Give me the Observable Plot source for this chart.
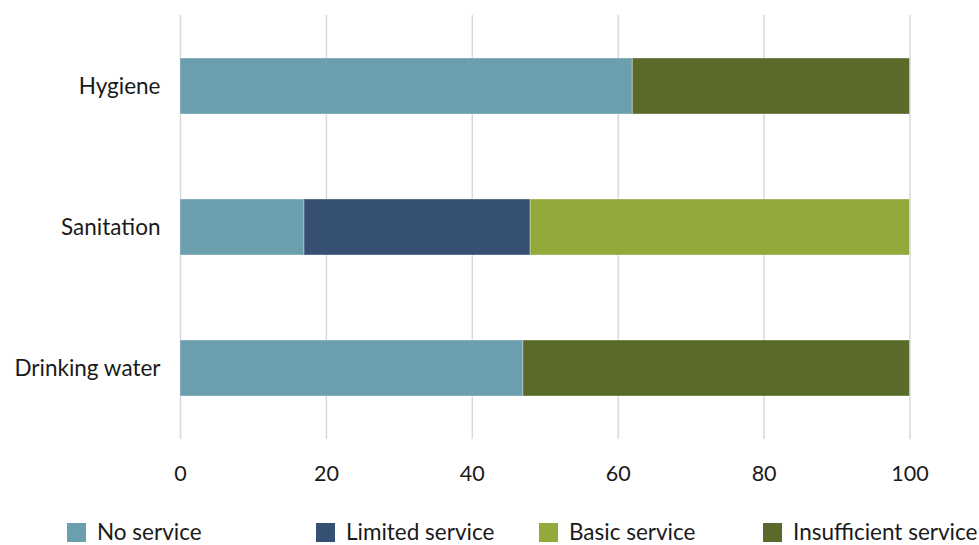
<!DOCTYPE html>
<html>
<head>
<meta charset="utf-8">
<script src="https://cdn.jsdelivr.net/npm/d3@7"></script>
<script src="https://cdn.jsdelivr.net/npm/@observablehq/plot@0.6"></script>
<style>
  html, body { margin: 0; padding: 0; background: #fff; }
  body { width: 979px; height: 545px; overflow: hidden; font-family: "Lato", "Noto Sans", sans-serif; }
  #chart { position: relative; width: 979px; height: 500px; }
  #legend { position: relative; width: 979px; height: 45px; }
  .item { position: absolute; top: 21px; display: flex; align-items: center; font-size: 22.5px; line-height: 22px; color: #1a1a1a; white-space: nowrap; }
  .sw { width: 19px; height: 19px; margin-right: 11px; }
</style>
</head>
<body>
<div id="chart"></div>
<div id="legend"></div>
<script>
const categories = ["Hygiene", "Sanitation", "Drinking water"];
const seriesNames = ["No service", "Limited service", "Basic service", "Insufficient service"];
const noService = [62, 17, 47];
const limitedService = [0, 31, 0];
const basicService = [0, 52, 0];
const insufficientService = [38, 0, 53];
const xTicks = [0, 20, 40, 60, 80, 100];
const colors = ["#6b9fae", "#365073", "#93a93a", "#5a6a2b"];

const seriesValues = [noService, limitedService, basicService, insufficientService];
const rows = [];
seriesNames.forEach((s, si) => {
  categories.forEach((c, ci) => {
    rows.push({ category: c, series: s, value: seriesValues[si][ci] });
  });
});

const chart = Plot.plot({
  width: 979,
  height: 500,
  marginTop: 15,
  marginBottom: 61,
  marginLeft: 180,
  marginRight: 69.5,
  style: { fontFamily: "Lato, 'Noto Sans', sans-serif", color: "#1a1a1a", background: "#fff" },
  x: { domain: [0, 100] },
  y: { domain: categories, paddingInner: 0.6, paddingOuter: 0.3 },
  color: { domain: seriesNames, range: colors },
  marks: [
    Plot.gridX(xTicks, { stroke: "#d9d9d9", strokeOpacity: 1, strokeWidth: 1.5 }),
    Plot.barX(rows, {
      x: "value", y: "category", fill: "series", order: seriesNames,
      stroke: "#ffffff", strokeOpacity: 0.35, strokeWidth: 1
    }),
    Plot.axisX({ ticks: xTicks, tickSize: 0, tickPadding: 26, fontSize: 21.5, label: null }),
    Plot.axisY({ tickSize: 0, tickPadding: 20, fontSize: 22.5, label: null })
  ]
});
document.getElementById("chart").appendChild(chart);

const legendLeft = [67, 316, 539, 763];
const legend = document.getElementById("legend");
seriesNames.forEach((s, i) => {
  const item = document.createElement("div");
  item.className = "item";
  item.style.left = legendLeft[i] + "px";
  const sw = document.createElement("div");
  sw.className = "sw";
  sw.style.background = colors[i];
  const lab = document.createElement("span");
  lab.textContent = s;
  item.appendChild(sw);
  item.appendChild(lab);
  legend.appendChild(item);
});
</script>
</body>
</html>
